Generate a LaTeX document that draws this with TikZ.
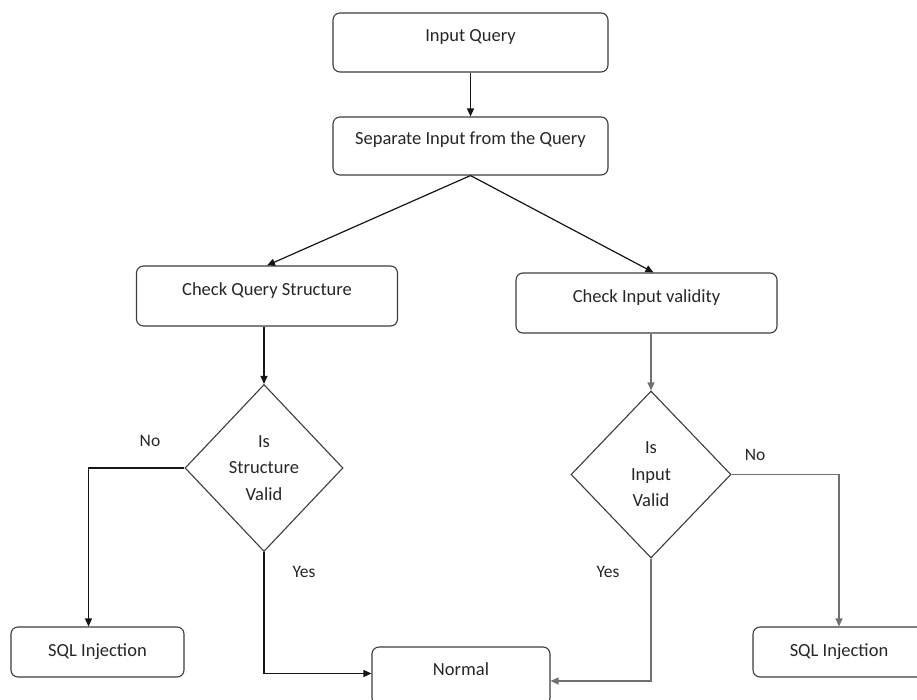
\documentclass[tikz,border=0pt]{standalone}
\usepackage{fontspec}
\setmainfont{Carlito}
\usetikzlibrary{shapes.geometric,arrows.meta}
\definecolor{boxline}{HTML}{3C3C3C}
\definecolor{darkline}{HTML}{151515}
\definecolor{greyline}{HTML}{707070}
\definecolor{txt}{HTML}{262626}

\begin{document}
\begin{tikzpicture}[x=1pt,y=-1pt,
  flowbox/.style={draw=boxline, line width=1.1pt, rounded corners=7pt,
    text=txt, font=\fontsize{18.5}{22}\selectfont, inner sep=0pt,
    text height=11pt, text depth=13pt},
  lowbox/.style={flowbox, text height=13pt, text depth=5pt},
  decision/.style={draw=boxline, line width=1.1pt, diamond, inner sep=0pt,
    text=txt, align=center, font=\fontsize{18.5}{26.5}\selectfont},
  branch/.style={text=txt, font=\fontsize{17.5}{20}\selectfont, inner sep=0pt},
  flow/.style={draw=darkline, line width=1.2pt, -{Triangle[length=8pt,width=7pt]}},
  flowgrey/.style={flow, draw=greyline}]

\useasboundingbox (0,0) rectangle (917,700);

% process boxes
\node[flowbox, minimum width=275pt, minimum height=59pt] (iq) at (470.5,42.5) {Input Query};
\node[flowbox, minimum width=275pt, minimum height=58pt] (sep) at (470.5,146) {Separate Input from the Query};
\node[flowbox, minimum width=261pt, minimum height=60pt] (cqs) at (267,296) {Check Query Structure};
\node[flowbox, minimum width=261pt, minimum height=60pt] (civ) at (646.5,303) {Check Input validity};

% decisions
\node[decision, minimum width=158pt, minimum height=167pt] (d1) at (264,468) {Is\\Structure\\Valid};
\node[decision, minimum width=160pt, minimum height=167pt] (d2) at (651,474.5) {Is\\Input\\Valid};

% outcomes
\node[lowbox, minimum width=173pt, minimum height=50pt] (sql1) at (97.5,652) {SQL Injection};
\node[lowbox, minimum width=172pt, minimum height=50pt] (sql2) at (839,652) {SQL Injection};
\node[flowbox, minimum width=178pt, minimum height=58pt] (normal) at (461,676) {Normal};

% branch labels
\node[branch] (no1) at (150,441) {No};
\node[branch] (yes1) at (304,572) {Yes};
\node[branch] (yes2) at (608,572) {Yes};
\node[branch] (no2) at (755,455) {No};

% connectors
\path[flow] (iq.south) -- (sep.north);
\path[flow] (sep.south) -- (cqs.north);
\path[flow] (sep.south) -- ([xshift=7pt]civ.north);
\path[flow] (d1.north |- cqs.south) -- (d1.north);
\path[flowgrey] (d2.north |- civ.south) -- (d2.north);

\path[flow] (d1.west) -| ([xshift=-9pt]sql1.north);
\path[flow] (d1.south) |- ([yshift=2.5pt]normal.west);
\path[flowgrey] (d2.south) |- ([yshift=-5pt]normal.east);
\path[flowgrey] (d2.east) -| (sql2.north);
\end{tikzpicture}
\end{document}
